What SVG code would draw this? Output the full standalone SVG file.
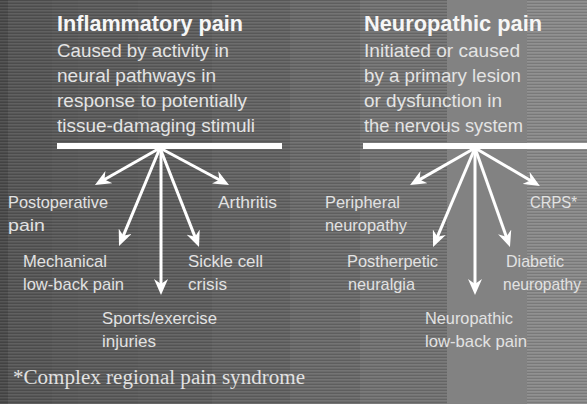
<svg xmlns="http://www.w3.org/2000/svg" width="587" height="404" viewBox="0 0 587 404">
<style>
.t{font-family:"Liberation Sans Narrow","Liberation Sans",Arial,sans-serif;font-weight:bold;font-size:22px;fill:#f6f6f6}
.b{font-family:"Liberation Sans Narrow","Liberation Sans",Arial,sans-serif;font-size:19px;fill:#e4e4e4}
.l{font-family:"Liberation Sans Narrow","Liberation Sans",Arial,sans-serif;font-size:17px;fill:#e2e2e2}
.f{font-family:"Liberation Serif","Times New Roman",serif;font-size:20px;fill:#e2e2e2}
.a{stroke:#ffffff;stroke-width:3;fill:none;marker-end:url(#ah)}
</style>
<defs>
<marker id="ah" viewBox="0 0 16 14" refX="8" refY="7" markerWidth="16" markerHeight="14" markerUnits="userSpaceOnUse" orient="auto">
<path d="M0,0 L16,7 L0,14 L5,7 z" fill="#ffffff"/>
</marker>
<pattern id="scan" width="4" height="3" patternUnits="userSpaceOnUse">
<rect x="0" y="0" width="4" height="1" fill="#000" opacity="0.12"/>
<rect x="0" y="1" width="4" height="1" fill="#fff" opacity="0.06"/>
</pattern>
</defs>
<g id="background">
<rect x="0" y="0" width="587" height="404" fill="#5e5e5e"/>
<rect x="0" y="0" width="8" height="404" fill="#4b4b4b"/>
<rect x="8" y="0" width="44" height="404" fill="#575757"/>
<rect x="52" y="0" width="26" height="404" fill="#5a5a5a"/>
<rect x="78" y="0" width="60" height="404" fill="#5c5c5c"/>
<rect x="138" y="0" width="74" height="404" fill="#5f5f5f"/>
<rect x="212" y="0" width="78" height="404" fill="#646464"/>
<rect x="290" y="0" width="70" height="404" fill="#6b6b6b"/>
<rect x="360" y="0" width="87" height="404" fill="#737373"/>
<rect x="447" y="0" width="80" height="404" fill="#828282"/>
<rect x="527" y="0" width="60" height="404" fill="#8a8a8a"/>
<rect x="0" y="0" width="447" height="404" fill="url(#scan)"/>
<rect x="527" y="0" width="60" height="404" fill="url(#scan)"/>
</g>
<g id="inflammatory">
<text class="t" x="57" y="31" textLength="186" lengthAdjust="spacingAndGlyphs">Inflammatory pain</text>
<text class="b" x="57" y="57" textLength="172" lengthAdjust="spacingAndGlyphs">Caused by activity in</text>
<text class="b" x="57" y="82" textLength="159" lengthAdjust="spacingAndGlyphs">neural pathways in</text>
<text class="b" x="57" y="107" textLength="190" lengthAdjust="spacingAndGlyphs">response to potentially</text>
<text class="b" x="57" y="132" textLength="198" lengthAdjust="spacingAndGlyphs">tissue-damaging stimuli</text>
<rect x="57" y="143" width="225" height="6" fill="#ffffff"/>
</g>
<g id="neuropathic">
<text class="t" x="364" y="31" textLength="178" lengthAdjust="spacingAndGlyphs">Neuropathic pain</text>
<text class="b" x="364" y="57" textLength="156" lengthAdjust="spacingAndGlyphs">Initiated or caused</text>
<text class="b" x="364" y="82" textLength="157" lengthAdjust="spacingAndGlyphs">by a primary lesion</text>
<text class="b" x="364" y="107" textLength="138" lengthAdjust="spacingAndGlyphs">or dysfunction in</text>
<text class="b" x="364" y="132" textLength="159" lengthAdjust="spacingAndGlyphs">the nervous system</text>
<rect x="363" y="143" width="224" height="6" fill="#ffffff"/>
</g>
<g id="connectors">
<path class="a" d="M160,148 L101.9,181"/>
<path class="a" d="M160,148 L122.1,238.6"/>
<path class="a" d="M161,148 L161,287"/>
<path class="a" d="M160,148 L196.1,239.6"/>
<path class="a" d="M160,148 L222,181.2"/>
<path class="a" d="M475,148 L417,181.1"/>
<path class="a" d="M475,148 L436.2,239.6"/>
<path class="a" d="M475,148 L475,287"/>
<path class="a" d="M475,148 L507.3,239.5"/>
<path class="a" d="M475,148 L533,182"/>
</g>
<g id="postoperative"><text class="l" x="8" y="208" textLength="100" lengthAdjust="spacingAndGlyphs">Postoperative</text><text class="l" x="8" y="231" textLength="37" lengthAdjust="spacingAndGlyphs">pain</text></g>
<g id="arthritis"><text class="l" x="218" y="208" textLength="59" lengthAdjust="spacingAndGlyphs">Arthritis</text></g>
<g id="mechanical"><text class="l" x="23" y="267" textLength="84" lengthAdjust="spacingAndGlyphs">Mechanical</text><text class="l" x="23" y="290" textLength="101" lengthAdjust="spacingAndGlyphs">low-back pain</text></g>
<g id="sickle"><text class="l" x="188" y="267" textLength="75" lengthAdjust="spacingAndGlyphs">Sickle cell</text><text class="l" x="188" y="290" textLength="39" lengthAdjust="spacingAndGlyphs">crisis</text></g>
<g id="sports"><text class="l" x="102" y="324" textLength="115" lengthAdjust="spacingAndGlyphs">Sports/exercise</text><text class="l" x="102" y="347" textLength="54" lengthAdjust="spacingAndGlyphs">injuries</text></g>
<g id="peripheral"><text class="l" x="325" y="208" textLength="75" lengthAdjust="spacingAndGlyphs">Peripheral</text><text class="l" x="325" y="231" textLength="82" lengthAdjust="spacingAndGlyphs">neuropathy</text></g>
<g id="crps"><text class="l" x="530" y="208" textLength="47" lengthAdjust="spacingAndGlyphs">CRPS*</text></g>
<g id="postherpetic"><text class="l" x="347" y="267" textLength="91" lengthAdjust="spacingAndGlyphs">Postherpetic</text><text class="l" x="348" y="290" textLength="67" lengthAdjust="spacingAndGlyphs">neuralgia</text></g>
<g id="diabetic"><text class="l" x="506" y="267" textLength="58" lengthAdjust="spacingAndGlyphs">Diabetic</text><text class="l" x="503" y="290" textLength="78" lengthAdjust="spacingAndGlyphs">neuropathy</text></g>
<g id="neuro-lbp"><text class="l" x="425" y="324" textLength="88" lengthAdjust="spacingAndGlyphs">Neuropathic</text><text class="l" x="425" y="347" textLength="102" lengthAdjust="spacingAndGlyphs">low-back pain</text></g>
<g id="footnote"><text class="f" x="13" y="384" textLength="292" lengthAdjust="spacingAndGlyphs">*Complex regional pain syndrome</text></g>
</svg>
